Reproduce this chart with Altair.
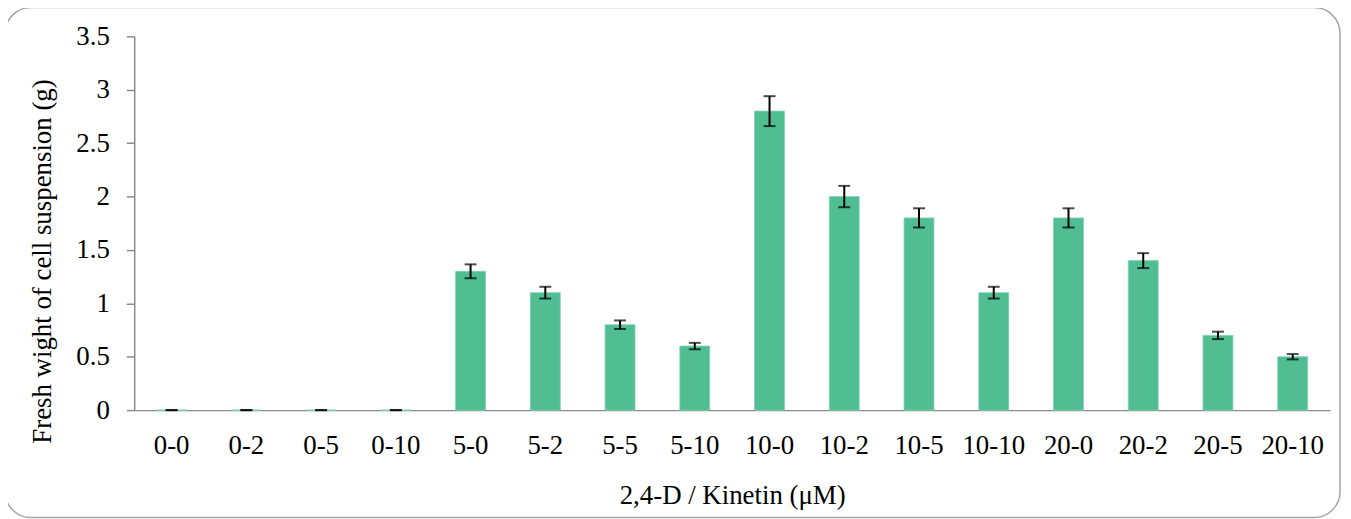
import altair as alt
import pandas as pd

categories = ["0-0", "0-2", "0-5", "0-10", "5-0", "5-2", "5-5", "5-10",
              "10-0", "10-2", "10-5", "10-10", "20-0", "20-2", "20-5", "20-10"]
fresh_weight = [0, 0, 0, 0, 1.3, 1.1, 0.8, 0.6, 2.8, 2.0, 1.8, 1.1, 1.8, 1.4, 0.7, 0.5]
error = [0, 0, 0, 0, 0.065, 0.055, 0.04, 0.03, 0.14, 0.1, 0.09, 0.055, 0.09, 0.07, 0.035, 0.025]

df = pd.DataFrame({"cat": categories, "val": fresh_weight, "err": error})
df["lo"] = df["val"] - df["err"]
df["hi"] = df["val"] + df["err"]

FONT = "Liberation Serif"
W, H = 1203, 376
GRAY = "#8c8c8c"

xenc = alt.X("cat:N", sort=categories,
             scale=alt.Scale(paddingInner=0.6, paddingOuter=0.3),
             axis=alt.Axis(title="2,4-D / Kinetin (\u03bcM)", labelAngle=0, ticks=False,
                           labelPadding=23, titlePadding=24, domainColor=GRAY,
                           domainWidth=1.5))
yscale = alt.Scale(domain=[0, 3.5])

bars = alt.Chart(df).mark_bar(color="#50BD93", stroke="#7fd3b2", strokeWidth=0.8).encode(
    x=xenc,
    y=alt.Y("val:Q", scale=yscale,
            axis=alt.Axis(title="Fresh wight of cell suspension (g)",
                          values=[0, 0.5, 1, 1.5, 2, 2.5, 3, 3.5], format="~g",
                          grid=False, tickSize=8, tickColor=GRAY, domainColor=GRAY,
                          domainWidth=1.5, tickWidth=1.5, labelPadding=17,
                          titlePadding=19, titleY=226, titleAlign="center")),
)

rules = alt.Chart(df).mark_rule(color="black", strokeWidth=2).encode(
    x=alt.X("cat:N", sort=categories),
    y=alt.Y("lo:Q", scale=yscale),
    y2="hi:Q",
)
caps_lo = alt.Chart(df).mark_tick(color="black", size=12, thickness=2, orient="horizontal").encode(
    x=alt.X("cat:N", sort=categories),
    y=alt.Y("lo:Q", scale=yscale),
)
caps_hi = alt.Chart(df).mark_tick(color="black", size=12, thickness=2, orient="horizontal").encode(
    x=alt.X("cat:N", sort=categories),
    y=alt.Y("hi:Q", scale=yscale),
)

border = alt.Chart(pd.DataFrame({"a": [0]})).mark_rect(
    fill=None, stroke="#a6a6a6", strokeWidth=1.5, cornerRadius=26
).encode(x=alt.value(-130), x2=alt.value(W + 10), y=alt.value(-29), y2=alt.value(H + 108))

chart = alt.layer(border, bars, rules, caps_lo, caps_hi).properties(
    width=W, height=H,
    autosize=alt.AutoSizeParams(type="none"),
    padding={"left": 127, "top": 27, "right": 13, "bottom": 110},
).configure_view(stroke=None).configure_axis(
    labelFont=FONT, titleFont=FONT, labelFontSize=27, titleFontSize=27,
    labelColor="black", titleColor="black", titleFontWeight="normal",
)

chart.save("out.html", embed_options={"renderer": "svg", "actions": False})
